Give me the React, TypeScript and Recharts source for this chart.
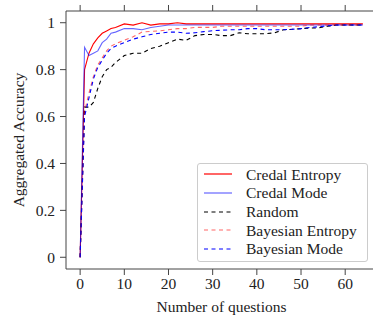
import { LineChart, Line, XAxis, YAxis, ReferenceLine } from "recharts";

const QUESTIONS = [0, 1, 2, 3, 4, 5, 6, 7, 8, 10, 12, 14, 16, 18, 20, 22, 24, 26, 28, 30, 32, 34, 36, 38, 40, 42, 44, 46, 48, 50, 52, 54, 56, 58, 60, 62, 64];

const CREDAL_ENTROPY = [0, 0.8, 0.87, 0.91, 0.935, 0.955, 0.965, 0.975, 0.98, 0.995, 0.99, 1.0, 0.99, 0.995, 0.995, 1.0, 0.995, 0.995,
  0.995, 0.995, 0.995, 0.995, 0.995, 0.995, 0.995, 0.995, 0.995, 0.995, 0.995, 0.995, 0.995, 0.995, 0.995, 0.995, 0.995, 0.995, 0.995];
const CREDAL_MODE = [0, 0.895, 0.86, 0.87, 0.88, 0.915, 0.93, 0.955, 0.96, 0.975, 0.975, 0.97, 0.98, 0.985, 0.99, 0.99, 0.99, 0.99,
  0.99, 0.99, 0.99, 0.99, 0.99, 0.99, 0.99, 0.99, 0.99, 0.99, 0.99, 0.99, 0.99, 0.99, 0.99, 0.99, 0.99, 0.99, 0.99];
const RANDOM = [0, 0.64, 0.64, 0.66, 0.72, 0.77, 0.8, 0.81, 0.83, 0.86, 0.87, 0.87, 0.89, 0.9, 0.915, 0.93, 0.925, 0.945,
  0.95, 0.95, 0.945, 0.945, 0.957, 0.953, 0.953, 0.953, 0.957, 0.97, 0.972, 0.975, 0.977, 0.978, 0.985, 0.99, 0.99, 0.99, 0.99];
const BAYES_ENTROPY = [0, 0.62, 0.7, 0.77, 0.82, 0.85, 0.88, 0.9, 0.91, 0.925, 0.94, 0.96, 0.963, 0.965, 0.97, 0.975, 0.975, 0.98,
  0.98, 0.98, 0.985, 0.985, 0.985, 0.985, 0.985, 0.985, 0.985, 0.985, 0.985, 0.985, 0.99, 0.99, 0.99, 0.99, 0.99, 0.99, 0.99];
const BAYES_MODE = [0, 0.6, 0.68, 0.76, 0.81, 0.84, 0.87, 0.89, 0.9, 0.915, 0.93, 0.94, 0.95, 0.955, 0.96, 0.96, 0.955, 0.957,
  0.962, 0.966, 0.968, 0.97, 0.97, 0.975, 0.975, 0.97, 0.97, 0.97, 0.972, 0.975, 0.98, 0.983, 0.987, 0.99, 0.99, 0.99, 0.99];

const X_TICKS = [0, 10, 20, 30, 40, 50, 60];
const Y_TICKS = [0, 0.2, 0.4, 0.6, 0.8, 1];
const X_DOMAIN = [-3.2, 67.2];
const Y_DOMAIN = [-0.05, 1.05];

const SERIES = [
  { key: "ce", name: "Credal Entropy", color: "#ff0000", opacity: 1, dash: undefined },
  { key: "cm", name: "Credal Mode", color: "#0000ff", opacity: 0.6, dash: undefined },
  { key: "rnd", name: "Random", color: "#000000", opacity: 1, dash: "4 3.5" },
  { key: "be", name: "Bayesian Entropy", color: "#ff0000", opacity: 0.6, dash: "4 3.5" },
  { key: "bm", name: "Bayesian Mode", color: "#0000ff", opacity: 1, dash: "4 3.5" },
];

const data = QUESTIONS.map((q, i) => ({
  q,
  ce: CREDAL_ENTROPY[i],
  cm: CREDAL_MODE[i],
  rnd: RANDOM[i],
  be: BAYES_ENTROPY[i],
  bm: BAYES_MODE[i],
}));

const FONT = "'Liberation Serif', serif";
const FS = 15.5;
const TEXT = "#222";
const SPINE = "#444";
// top tick length in data units (6px over a 258px-high plot spanning 1.1)
const TOP_TICK = 0.0256;

const BoxLegend = () => (
  <div style={{
    position: "absolute", left: 197, top: 163, width: 169, height: 96,
    border: "1px solid #cccccc", borderRadius: 3,
    background: "rgba(255,255,255,0.85)", fontFamily: FONT, fontSize: FS, color: TEXT,
    paddingTop: 1, lineHeight: 1,
  }}>
    {SERIES.map((s) => (
      <div key={s.key} style={{ display: "flex", alignItems: "center", height: 18.7 }}>
        <svg width={48} height={10} style={{ flex: "none" }}>
          <line x1={6} y1={5} x2={34} y2={5} stroke={s.color} strokeOpacity={s.opacity}
            strokeWidth={1.2} strokeDasharray={s.dash} />
        </svg>
        <span>{s.name}</span>
      </div>
    ))}
  </div>
);

const YLabel = ({ viewBox }: any) => {
  const cx = 18.5;
  const cy = viewBox.y + viewBox.height / 2;
  return (
    <text x={cx} y={cy} transform={`rotate(-90 ${cx} ${cy})`} textAnchor="middle"
      dominantBaseline="central" fill={TEXT} fontSize={FS} fontFamily={FONT}>
      Aggregated Accuracy
    </text>
  );
};

export default function App() {
  return (
    <div style={{ position: "absolute", left: 0, top: 0, width: 373, height: 316, overflow: "hidden", background: "#fff" }}>
      <LineChart width={378} height={316} data={data} margin={{ top: 11, right: 1, left: 0, bottom: 0 }}>
        <XAxis dataKey="q" type="number" domain={X_DOMAIN} ticks={X_TICKS}
          height={47} tickSize={6} tickMargin={3} stroke={SPINE}
          tick={{ fill: TEXT, fontSize: FS, fontFamily: FONT }}
          label={{ value: "Number of questions", position: "insideBottom", offset: 4, fill: TEXT, fontSize: FS, fontFamily: FONT }} />
        <YAxis type="number" domain={Y_DOMAIN} ticks={Y_TICKS} width={66}
          tickSize={6} tickMargin={5} stroke={SPINE}
          tick={{ fill: TEXT, fontSize: FS, fontFamily: FONT }}
          label={{ content: YLabel }} />
        {/* upper spine with outward ticks */}
        <ReferenceLine y={Y_DOMAIN[1]} stroke={SPINE} ifOverflow="visible" />
        {X_TICKS.map((t) => (
          <ReferenceLine key={`tt${t}`} ifOverflow="visible" stroke={SPINE}
            segment={[{ x: t, y: Y_DOMAIN[1] }, { x: t, y: Y_DOMAIN[1] + TOP_TICK }]} />
        ))}
        {SERIES.map((s) => (
          <Line key={s.key} dataKey={s.key} name={s.name} stroke={s.color} strokeOpacity={s.opacity}
            strokeWidth={1.1} strokeDasharray={s.dash} dot={false} activeDot={false}
            type="linear" isAnimationActive={false} />
        ))}
      </LineChart>
      <BoxLegend />
    </div>
  );
}
